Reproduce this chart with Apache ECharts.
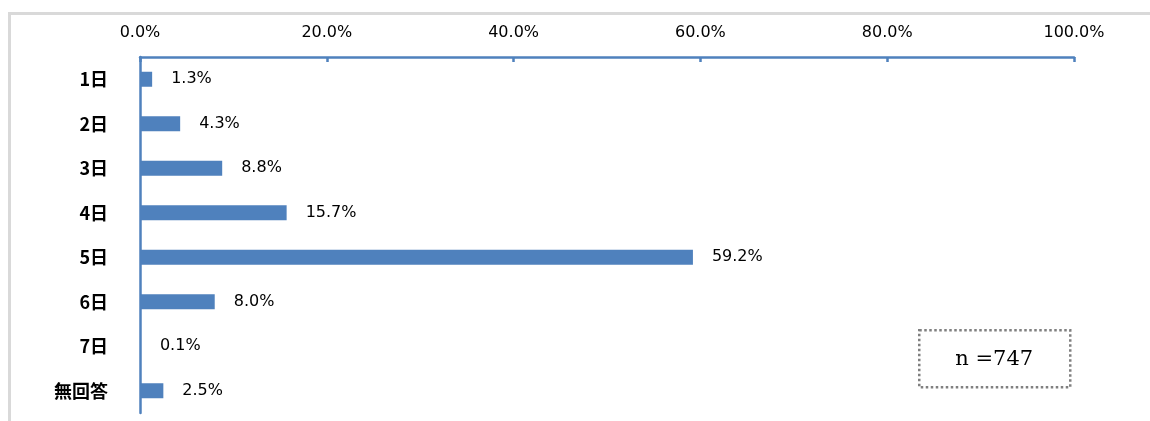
<!DOCTYPE html>
<html>
<head>
<meta charset="utf-8">
<script src="https://cdn.jsdelivr.net/npm/echarts@6/dist/echarts.min.js"></script>
<style>
  html, body { margin: 0; padding: 0; background: #fff; }
  #main { width: 1150px; height: 421px; }
</style>
</head>
<body>
<div id="main"></div>
<script>
// 日数ごとの回答割合
const categories = ['1日', '2日', '3日', '4日', '5日', '6日', '7日', '無回答'];
const percents = [1.3, 4.3, 8.8, 15.7, 59.2, 8.0, 0.1, 2.5];
const sampleText = 'n =747';

const blue = '#4F81BD';
const labelFont = '"DejaVu Sans", "Noto Sans CJK JP", sans-serif';

const chart = echarts.init(document.getElementById('main'), null, { renderer: 'canvas' });

chart.setOption({
  animation: false,
  grid: { left: 140, right: 76, top: 57, bottom: 8, containLabel: false },
  xAxis: {
    type: 'value',
    position: 'top',
    min: 0,
    max: 100,
    interval: 20,
    axisLine: { show: true, lineStyle: { color: blue, width: 2.5 } },
    axisTick: { show: true, inside: true, length: 5, lineStyle: { color: blue, width: 2.5 } },
    splitLine: { show: false },
    axisLabel: {
      margin: 16,
      color: '#000',
      fontSize: 16,
      fontFamily: labelFont,
      formatter: v => v.toFixed(1) + '%'
    }
  },
  yAxis: {
    type: 'category',
    data: categories,
    inverse: true,
    axisLine: { show: true, lineStyle: { color: blue, width: 2.5 } },
    axisTick: { show: false },
    axisLabel: {
      margin: 32,
      color: '#000',
      fontSize: 18,
      fontWeight: 'bold',
      fontFamily: '"Noto Sans CJK JP", sans-serif'
    }
  },
  series: [{
    type: 'bar',
    data: percents,
    barWidth: 15,
    itemStyle: { color: blue },
    label: {
      show: true,
      position: 'right',
      distance: 19,
      color: '#000',
      fontSize: 16,
      fontFamily: labelFont,
      formatter: p => p.value.toFixed(1) + '%'
    }
  }],
  graphic: [
    {
      type: 'rect',
      left: 7, top: 11,
      shape: { width: 1160, height: 430 },
      style: { fill: 'none', stroke: '#d9d9d9', lineWidth: 3 },
      silent: true
    },
    {
      type: 'group',
      left: 918, top: 329,
      children: [
        {
          type: 'rect',
          shape: { x: 0, y: 0, width: 151, height: 57 },
          style: { fill: '#fff', stroke: '#808080', lineWidth: 2.5, lineDash: [2.5, 2.5] }
        },
        {
          type: 'text',
          x: 75, y: 29,
          style: {
            text: sampleText,
            fill: '#000',
            font: '21px "DejaVu Serif", "Liberation Serif", serif',
            align: 'center',
            verticalAlign: 'middle'
          }
        }
      ]
    }
  ]
});
</script>
</body>
</html>
